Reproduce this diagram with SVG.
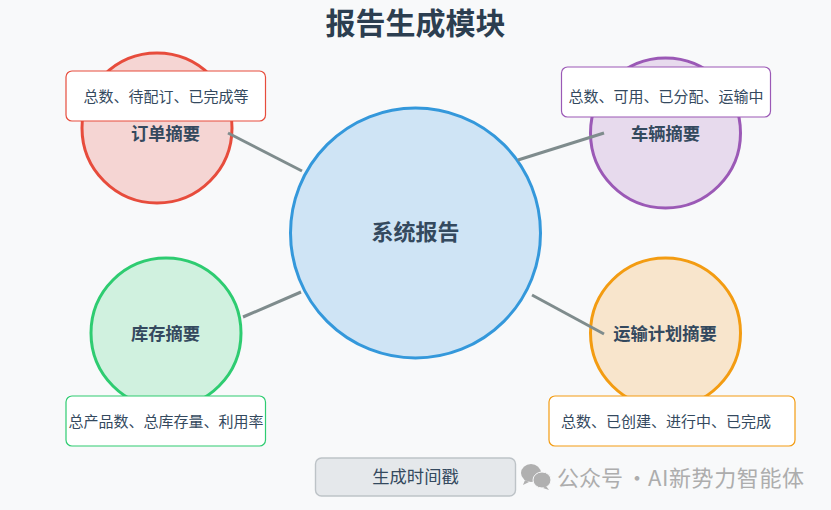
<svg xmlns="http://www.w3.org/2000/svg" width="831" height="510" viewBox="0 0 831 510">
<style>
text{font-family:"Noto Sans CJK SC","Noto Sans",sans-serif;text-anchor:middle;dominant-baseline:central;fill:#2c3e50}
.c{stroke-width:3}
.l{font-size:17.300px;font-weight:700;fill:#34495e}
.n{font-size:15px;fill:#34495e}
.b{fill:#fff;stroke-width:1.2}
.e{stroke:#7f8c8d;stroke-width:3;fill:none}
</style>
<rect width="831" height="510" fill="#f8f9fa"/>
<text x="415.500" y="21" font-size="30" font-weight="700">报告生成模块</text>
<g id="node-center">
<circle class="c" cx="415.500" cy="233" r="125" fill="#cfe4f5" stroke="#3498db"/>
<text x="415.500" y="230" font-size="22" font-weight="700" style="fill:#34495e">系统报告</text>
</g>
<g id="node-orders">
<circle class="c" cx="157" cy="128" r="75" fill="#f5d5d3" stroke="#e74c3c"/>
<text class="l" x="165.500" y="132">订单摘要</text>
</g>
<g id="node-vehicles">
<circle class="c" cx="665.500" cy="133" r="75" fill="#e7daed" stroke="#9b59b6"/>
<text class="l" x="665.500" y="132">车辆摘要</text>
</g>
<g id="node-inventory">
<circle class="c" cx="166" cy="333" r="75" fill="#d0f1df" stroke="#2ecc71"/>
<text class="l" x="165.500" y="332">库存摘要</text>
</g>
<g id="node-transport">
<circle class="c" cx="665.500" cy="333" r="75" fill="#f8e5cc" stroke="#f39c12"/>
<text class="l" x="665" y="332">运输计划摘要</text>
</g>
<g id="connectors">
<line class="e" x1="228" y1="133" x2="302" y2="171"/>
<line class="e" x1="518" y1="160" x2="604" y2="133"/>
<line class="e" x1="243" y1="317" x2="301" y2="292"/>
<line class="e" x1="532" y1="295" x2="604" y2="334"/>
</g>
<g id="note-orders">
<rect class="b" x="66" y="71" width="199.500" height="50" rx="6" stroke="#e74c3c"/>
<text class="n" x="166" y="95">总数、待配订、已完成等</text>
</g>
<g id="note-vehicles">
<rect class="b" x="561.500" y="67" width="209" height="50" rx="6" stroke="#9b59b6"/>
<text class="n" x="666" y="95">总数、可用、已分配、运输中</text>
</g>
<g id="note-inventory">
<rect class="b" x="66" y="396" width="199.500" height="50" rx="6" stroke="#2ecc71"/>
<text class="n" x="166" y="420">总产品数、总库存量、利用率</text>
</g>
<g id="note-transport">
<rect class="b" x="549" y="396" width="246" height="50" rx="6" stroke="#f39c12"/>
<text class="n" x="666" y="420">总数、已创建、进行中、已完成</text>
</g>
<g id="node-timestamp">
<rect x="315.500" y="458" width="200" height="38" rx="6" fill="#e5e8eb" stroke="#bdc3c7" stroke-width="1.4"/>
<text x="415.500" y="475" font-size="17.300" style="fill:#34495e">生成时间戳</text>
</g>
<g id="watermark">
<ellipse cx="531" cy="473" rx="10" ry="9" fill="#b0b0b0"/>
<path d="M525 480l-2 5 6-3z" fill="#b0b0b0"/>
<ellipse cx="542" cy="480" rx="9" ry="8" fill="#b0b0b0" stroke="#f8f9fa"/>
<path d="M546 486l3 4-6-2z" fill="#b0b0b0"/>
<text y="476" font-size="22" style="fill:#adadad;text-anchor:start"><tspan x="557">公众号</tspan><tspan x="626">·</tspan><tspan x="648" style="letter-spacing:.6px">AI新势力智能体</tspan></text>
</g>
</svg>
